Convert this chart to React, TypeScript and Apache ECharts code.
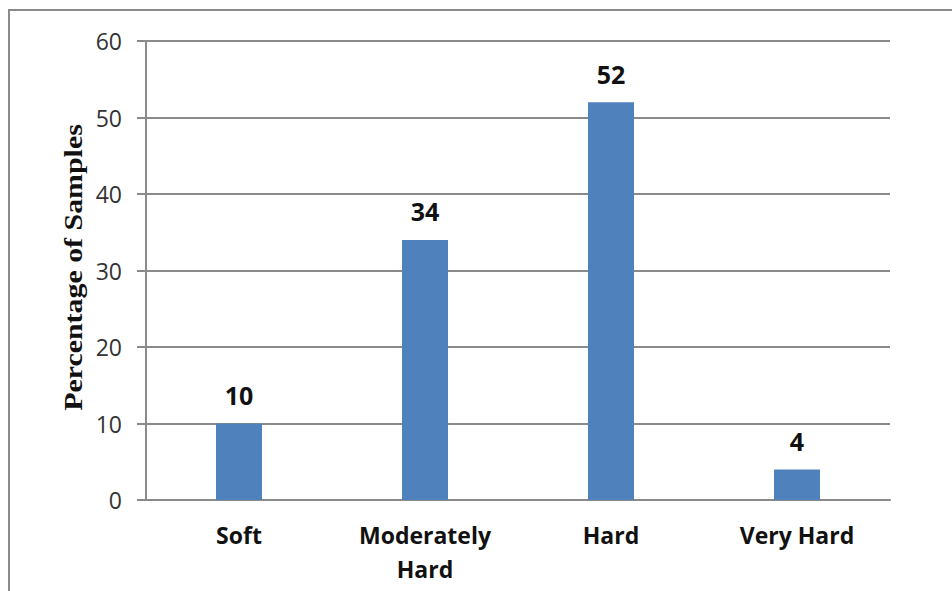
import React, { useEffect, useRef } from "react";
import * as echarts from "echarts";

const categories = ["Soft", "Moderately\nHard", "Hard", "Very Hard"];
const values = [10, 34, 52, 4];
const yTicks = { min: 0, max: 60, interval: 10 };
const yTitle = "Percentage of Samples";

export default function App() {
  const ref = useRef<HTMLDivElement>(null);
  useEffect(() => {
    if (!ref.current) return;
    const chart = echarts.init(ref.current, undefined, { renderer: "svg" });
    const gray = "#8a8a8a";
    chart.setOption({
      animation: false,
      backgroundColor: "#ffffff",
      grid: { left: 146, right: 62, top: 41, bottom: 91 },
      graphic: [
        {
          type: "rect",
          shape: { x: 9, y: 10, width: 980, height: 620 },
          style: { fill: "none", stroke: gray, lineWidth: 2 },
          silent: true,
        },
        {
          type: "text",
          x: 73.5,
          y: 267.5,
          rotation: Math.PI / 2,
          scaleX: 1.15,
          style: {
            text: yTitle,
            align: "center",
            verticalAlign: "middle",
            fontFamily: "Liberation Serif",
            fontWeight: "bold",
            fontSize: 26,
            fill: "#111",
          },
          silent: true,
        },
      ],
      xAxis: {
        type: "category",
        data: categories,
        axisLine: { show: true, lineStyle: { color: gray, width: 2 } },
        axisTick: { show: false },
        axisLabel: {
          margin: 18,
          fontFamily: "Open Sans",
          fontWeight: "bold",
          fontSize: 23,
          lineHeight: 34,
          color: "#111",
          interval: 0,
        },
      },
      yAxis: {
        type: "value",
        min: yTicks.min,
        max: yTicks.max,
        interval: yTicks.interval,
        axisLine: { show: true, lineStyle: { color: gray, width: 2 } },
        axisTick: { show: true, length: 9, lineStyle: { color: gray, width: 2 } },
        axisLabel: {
          margin: 24,
          fontFamily: "Open Sans",
          fontSize: 23,
          color: "#333",
        },
        splitLine: { show: true, lineStyle: { color: gray, width: 2 } },
      },
      series: [
        {
          type: "bar",
          data: values,
          barWidth: 46,
          itemStyle: { color: "#4F81BD" },
          label: {
            show: true,
            position: "top",
            distance: 16,
            fontFamily: "Open Sans",
            fontWeight: "bold",
            fontSize: 25,
            color: "#111",
          },
        },
      ],
    });
    return () => chart.dispose();
  }, []);
  return (
    <div
      ref={ref}
      style={{ position: "fixed", left: 0, top: 0, width: 952, height: 591 }}
    />
  );
}
